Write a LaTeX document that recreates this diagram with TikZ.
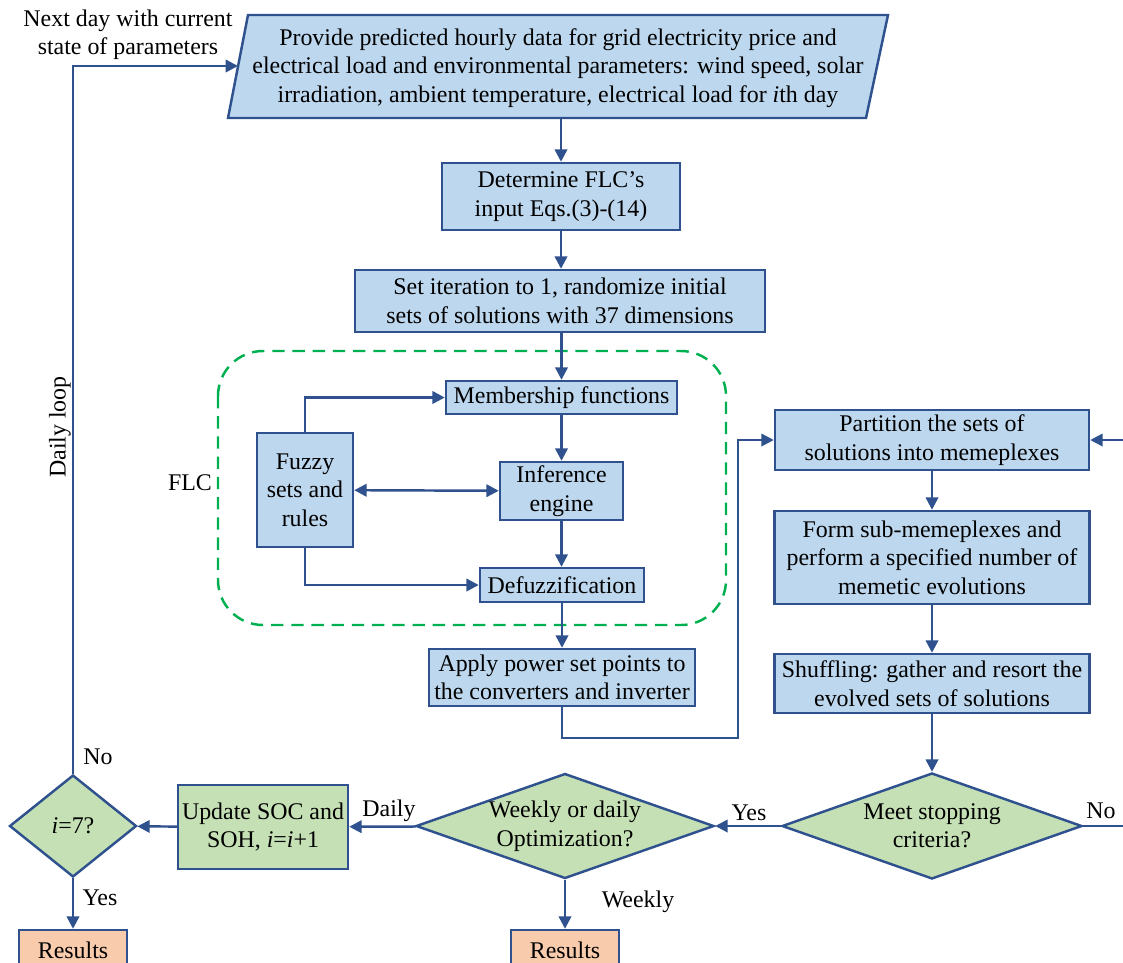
\documentclass[tikz,border=0pt]{standalone}
\usepackage{fontspec}
\setmainfont{Liberation Serif}
\usetikzlibrary{shapes.geometric}
\usetikzlibrary{arrows.meta}

\definecolor{boxblue}{RGB}{189,215,238}
\definecolor{boxgreen}{RGB}{197,224,180}
\definecolor{boxorange}{RGB}{248,203,173}
\definecolor{linecol}{RGB}{47,82,143}
\definecolor{flcgreen}{RGB}{0,176,80}

\begin{document}
\begin{tikzpicture}[
        font=\fontsize{13.6}{16.2}\selectfont,
        blk/.style={draw=linecol, line width=1.4pt, fill=boxblue, align=center, inner sep=1pt},
        dec/.style={draw=linecol, line width=1.4pt, fill=boxgreen, diamond, align=center, inner sep=0pt},
        res/.style={draw=linecol, line width=1.4pt, fill=boxorange, minimum width=2.16cm, minimum height=0.8cm},
        link/.style={draw=linecol, line width=1.4pt},
        arr/.style={link, -{Triangle[length=7pt,width=7pt]}},
        darr/.style={link, {Triangle[length=7pt,width=7pt]}-{Triangle[length=7pt,width=7pt]}},
        flcbox/.style={draw=flcgreen, line width=1.4pt, dash pattern=on 7pt off 4.5pt, rounded corners=0.9cm}
    ]
        \useasboundingbox (0,0) rectangle (22.46,-19.24);

        % input data
        \coordinate (pBL) at (4.56,-2.36);
        \coordinate (pTL) at (4.96,-0.30);
        \coordinate (pTR) at (17.76,-0.30);
        \coordinate (pBR) at (17.32,-2.36);
        \coordinate (inL) at (4.76,-1.32);
        \coordinate (inB) at (11.22,-2.36);
        \filldraw[blk] (pBL) -- (pTL) -- (pTR) -- (pBR) -- cycle;
        \node[align=center] (in) at (11.16,-1.36) {Provide predicted hourly data for grid electricity price and\\
            electrical load and environmental parameters: wind speed, solar\\
            irradiation, ambient temperature, electrical load for \textit{i}th day};

        % FLC block
        \draw[flcbox] (4.36,-7.02) rectangle (14.52,-12.50);
        \node (flclbl) at (3.80,-9.66) {FLC};

        \node[blk, minimum width=4.76cm, minimum height=1.34cm] (flc) at (11.22,-3.93) {Determine FLC's\\input Eqs.(3)-(14)};
        \node[blk, minimum width=8.2cm, minimum height=1.24cm] (init) at (11.20,-6.02) {Set iteration to 1, randomize initial\\sets of solutions with 37 dimensions};
        \node[blk, minimum width=4.62cm, minimum height=0.66cm] (mem) at (11.23,-7.95) {Membership functions};
        \node[blk, minimum width=1.92cm, minimum height=2.28cm] (fuzzy) at (6.10,-9.80) {Fuzzy\\sets and\\rules};
        \node[blk, minimum width=2.46cm, minimum height=1.16cm] (inf) at (11.23,-9.82) {Inference\\engine};
        \node[blk, minimum width=3.28cm, minimum height=0.68cm] (defuz) at (11.24,-11.70) {Defuzzification};
        \node[blk, minimum width=5.32cm, minimum height=1.14cm] (apply) at (11.24,-13.55) {Apply power set points to\\the converters and inverter};

        % SFLA
        \node[blk, minimum width=6.28cm, minimum height=1.20cm] (part) at (18.64,-8.80) {Partition the sets of\\solutions into memeplexes};
        \node[blk, minimum width=6.30cm, minimum height=1.86cm] (form) at (18.64,-11.15) {Form sub-memeplexes and\\perform a specified number of\\memetic evolutions};
        \node[blk, minimum width=6.30cm, minimum height=1.18cm] (shuf) at (18.64,-13.67) {Shuffling: gather and resort the\\evolved sets of solutions};

        % decisions
        \node[dec, aspect=2.83, minimum width=6.0cm, minimum height=2.12cm] (stop) at (18.64,-16.52) {Meet stopping\\criteria?};
        \node[dec, aspect=2.83, minimum width=5.96cm, minimum height=2.10cm] (week) at (11.30,-16.52) {Weekly or daily\\Optimization?};
        \node[blk, fill=boxgreen, minimum width=3.40cm, minimum height=1.68cm] (upd) at (5.26,-16.54) {Update SOC and\\SOH, \textit{i}=\textit{i}+1};
        \node[dec, aspect=1.25, minimum width=2.54cm, minimum height=2.04cm] (iday) at (1.46,-16.52) {\textit{i}=7?};
        \node[res] (res1) at (1.46,-19.00) {Results};
        \node[res] (res2) at (11.30,-19.00) {Results};

        \coordinate (jog) at (14.76,-14.76);
        \coordinate (rin) at (22.46,-8.80);
        \coordinate (rout) at (22.46,-16.52);

        % connectors
        \draw[arr] (inB) -- (inB |- flc.north);
        \draw[arr] (flc.south) -- (flc.south |- init.north);
        \draw[arr] (init.south -| mem.north) -- (mem.north);
        \draw[arr] (mem) -- (inf);
        \draw[arr] (inf.south) -- (inf.south |- defuz.north);
        \draw[arr] (defuz) -- (apply);
        \draw[arr] (fuzzy.north) |- (mem.west);
        \draw[darr] (fuzzy) -- (inf);
        \draw[arr] (fuzzy.south) |- (defuz.west);
        \draw[arr] (apply.south) |- (jog) |- (part.west);
        \draw[arr] (rin) -- (part.east);
        \draw[arr] (part) -- (form);
        \draw[arr] (form) -- (shuf);
        \draw[arr] (shuf) -- (stop);
        \draw[link] (stop.east) -- (rout);
        \draw[arr] (stop) -- (week);
        \draw[arr] (week) -- (upd);
        \draw[arr] (upd) -- (iday);
        \draw[arr] (week) -- (res2);
        \draw[arr] (iday) -- (res1);
        \draw[arr] (iday.north) |- (inL);

        % labels
        \node[align=center] (nextday) at (2.56,-0.70) {Next day with current\\state of parameters};
        \node[rotate=90] (loop) at (1.20,-8.54) {Daily loop};
        \node (no1) at (1.96,-15.14) {No};
        \node (yes1) at (2.00,-17.96) {Yes};
        \node (daily) at (7.78,-16.22) {Daily};
        \node (yes2) at (14.98,-16.26) {Yes};
        \node (weekly) at (12.76,-18.04) {Weekly};
        \node (no2) at (22.02,-16.22) {No};

    \end{tikzpicture}
\end{document}
